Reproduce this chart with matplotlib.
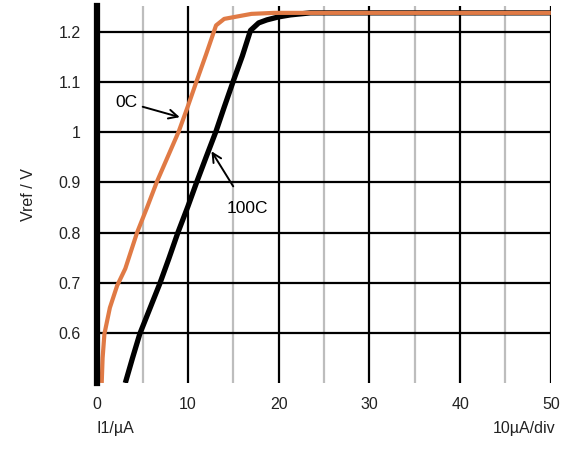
import matplotlib.pyplot as plt

plt.rcParams['font.family'] = ['Liberation Sans', 'DejaVu Sans']

# 0C curve (I1 in uA, Vref in V)
i_0c = [0.5, 0.6, 0.8, 1.4, 2.2, 3.1, 4.4, 5.5, 6.6, 7.8, 9.0, 10.0, 11.0, 12.0, 13.1,
        14.0, 15.5, 17.0, 19.5, 23.5, 50.0]
v_0c = [0.5, 0.55, 0.598, 0.65, 0.694, 0.728, 0.8, 0.85, 0.902, 0.952, 1.002, 1.052,
        1.104, 1.155, 1.213, 1.226, 1.231, 1.236, 1.238, 1.238, 1.238]

# 100C curve
i_100c = [3.1, 3.9, 4.7, 5.8, 6.9, 7.9, 8.9, 10.0, 11.0, 12.0, 13.1, 14.0, 15.0, 16.0,
          16.9, 17.8, 18.7, 20.0, 21.3, 23.5, 50.0]
v_100c = [0.5, 0.55, 0.598, 0.648, 0.698, 0.748, 0.8, 0.852, 0.902, 0.95, 1.002, 1.05,
          1.102, 1.152, 1.203, 1.218, 1.224, 1.23, 1.234, 1.238, 1.238]

fig = plt.figure(figsize=(5.75, 4.5), dpi=100)
ax = fig.add_axes([0.169, 0.149, 0.789, 0.838])

ax.set_xlim(0, 50)
ax.set_ylim(0.5, 1.252)

# grid: grey minor every 5, black major every 10 / 0.1
for x in range(5, 50, 10):
    ax.axvline(x, color='#bdbdbd', lw=1.6, zorder=1)
for x in range(10, 51, 10):
    ax.axvline(x, color='black', lw=1.6, zorder=1)
for y in [0.6, 0.7, 0.8, 0.9, 1.0, 1.1, 1.2]:
    ax.axhline(y, color='black', lw=1.6, zorder=1)

ax.plot(i_100c, v_100c, color='black', lw=3.8, solid_capstyle='butt', zorder=3)
ax.plot(i_0c, v_0c, color='#e07a45', lw=3.0, solid_capstyle='butt', zorder=4)

for s in ['top', 'right', 'bottom']:
    ax.spines[s].set_visible(False)
ax.spines['left'].set_linewidth(4.5)
ax.spines['left'].set_zorder(5)

ax.set_xticks([0, 10, 20, 30, 40, 50])
ax.set_yticks([0.6, 0.7, 0.8, 0.9, 1.0, 1.1, 1.2])
ax.set_yticklabels(['0.6', '0.7', '0.8', '0.9', '1', '1.1', '1.2'])
ax.tick_params(length=0, labelsize=11.5, colors='#222222', pad=12)
ax.tick_params(axis='x', pad=10)

ax.set_ylabel('Vref / V', fontsize=11.5, color='#222222', labelpad=16)

fig.text(0.167, 0.037, 'I1/µA', fontsize=11.5, color='#222222', ha='left')
fig.text(0.965, 0.037, '10µA/div', fontsize=11.5, color='#222222', ha='right')

ax.annotate('0C', xy=(9.1, 1.03), xytext=(3.2, 1.06), fontsize=12.5,
            ha='center', va='center',
            arrowprops=dict(arrowstyle='->', color='black', lw=1.4,
                            shrinkA=2, shrinkB=0, mutation_scale=16),
            zorder=6)
ax.annotate('100C', xy=(12.6, 0.962), xytext=(16.5, 0.848), fontsize=12.5,
            ha='center', va='center',
            arrowprops=dict(arrowstyle='->', color='black', lw=1.4,
                            shrinkA=10, shrinkB=0, mutation_scale=16),
            zorder=6)

fig.savefig('out.png', dpi=100)
